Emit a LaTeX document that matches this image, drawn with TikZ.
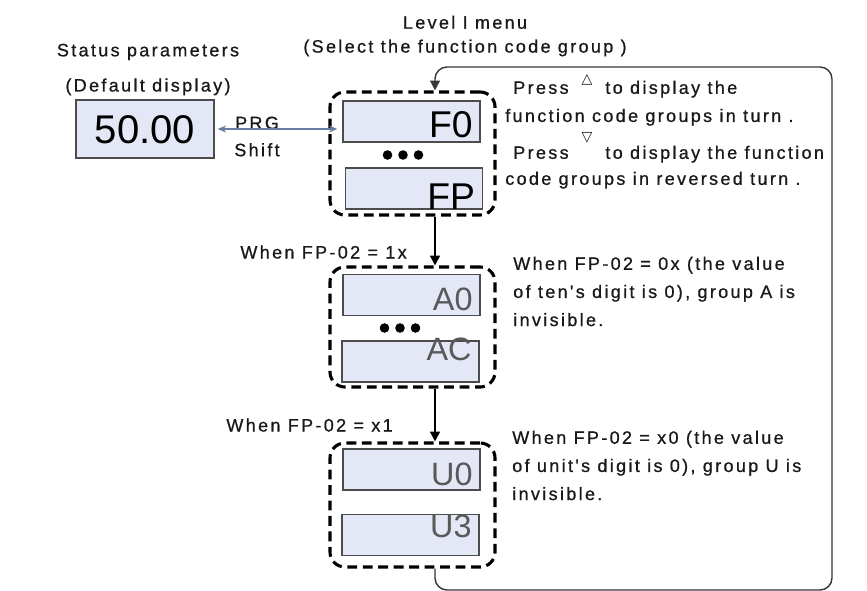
\documentclass[tikz,border=0pt]{standalone}
\usepackage{fontspec}
\setmainfont{Liberation Sans}
\newfontfamily\lsfont[LetterSpace=13,FakeBold=0.8]{Liberation Sans}
\newfontfamily\symfont{DejaVu Sans}
\usetikzlibrary{arrows.meta}

\definecolor{dispfill}{RGB}{228,231,246}
\definecolor{prgblue}{RGB}{100,125,160}
\definecolor{loopgray}{RGB}{55,55,55}

% small key triangle, raised above the line
\newcommand\keyglyph[2]{{\symfont\fontsize{10}{10}\selectfont\smash{\raisebox{#1}{#2}}}}

\tikzset{
  note/.style={font=\fontsize{12.8}{20}\selectfont\lsfont, text=black!90, align=left, inner sep=0pt},
  statbox/.style={draw=black!70, line width=1.2pt, fill=dispfill, minimum width=3.45cm, minimum height=1.45cm,
    inner sep=0pt, text height=0.7cm, text depth=0pt, font=\fontsize{28.5}{29}\selectfont},
  disp/.style 2 args={draw=black!70, line width=1.2pt, fill=dispfill, minimum width=3.425cm, minimum height=1.025cm,
    inner sep=0pt, text width=3.05cm, align=right, text height=#1, text depth=#2},
  fval/.style={font=\fontsize{26.5}{27}\selectfont},
  gval/.style={font=\fontsize{23}{23}\selectfont, text=black!65},
  grp/.style={draw, line width=2.2pt, dash pattern=on 7pt off 4pt, rounded corners=0.375cm, minimum width=4.125cm},
}

\begin{document}
\begin{tikzpicture}[x=0.025cm,y=-0.025cm,>={Triangle[length=7pt,width=7pt]}]
  \useasboundingbox (0,0) rectangle (867,591);
  % headings
  \node[note,align=center] (lvl) at (465,36) {Level I menu\\[-3pt](Select the function code group )};
  \node[note,align=center] (stathd) at (148,69.5) {Status parameters\\[5pt](Default display)};
  \node[statbox] (stat) at (145,129) {50.00};
  % function code groups
  \node[grp,minimum height=3.075cm] (gF) at (412.5,153.5) {};
  \node[grp,minimum height=3cm] (gA) at (412.5,327) {};
  \node[grp,minimum height=3.1cm] (gU) at (412.5,505) {};
  \node[disp={0.775cm}{0pt},fval] (f0) at (411.5,121.5) {F0};
  \node[disp={1.025cm}{0pt},fval] (fp) at (414,188.5) {FP};
  \node[disp={0.75cm}{0pt},gval] (a0) at (411.5,295) {A0};
  \node[disp={0.45cm}{0.525cm},gval] (ac) at (410.5,361.5) {AC};
  \node[disp={0.775cm}{0pt},gval] (u0) at (411.5,469.5) {U0};
  \node[disp={0.5cm}{0.4cm},gval] (u3) at (410.5,535) {U3};
  \fill (387.5,155) circle[radius=0.12cm] (403,155) circle[radius=0.12cm] (418.5,155) circle[radius=0.12cm];
  \fill (384.5,328) circle[radius=0.12cm] (400,328) circle[radius=0.12cm] (415.5,328) circle[radius=0.12cm];
  % PRG / Shift
  \node[note,align=center] (prg) at (257,136.5) {PRG\\[-0.8pt]Shift};
  \draw[{Stealth[length=6pt,width=5pt]}-{Stealth[length=6pt,width=5pt]},prgblue,line width=0.8pt,shorten <=2pt,shorten >=3.5pt]
    (stat.east) -- (stat.east -| f0.west);
  % explanations
  \node[note,anchor=north west] (pressup) at (505,80.5)
    {\hspace{5.7pt}Press\hspace{4pt} \keyglyph{7pt}{△}\hspace{4pt} to display the\\function code groups in turn .};
  \node[note,anchor=north west] (pressdn) at (505,145.5)
    {\hspace{5.7pt}Press\hspace{4pt} \keyglyph{12pt}{▽}\hspace{4pt} to display the function\\[-1.5pt]code groups in reversed turn .};
  \node[note,anchor=north west] (hideA) at (513,256.5) {When FP-02 = 0x (the value\\of ten's digit is 0), group A is\\invisible.};
  \node[note,anchor=north west] (hideU) at (512,430.5) {When FP-02 = x0 (the value\\of unit's digit is 0), group U is\\invisible.};
  \node[note,anchor=base east] (condA) at (407,258.5) {When FP-02 = 1x};
  \node[note,anchor=base east] (condU) at (393,431.5) {When FP-02 = x1};
  % connectors
  \coordinate (ax) at (435,0);
  \coordinate (loopbr) at (832,590);
  \coordinate (looptr) at (832,67);
  \draw[->,line width=1.2pt] (gF.south -| ax) -- (gA.north -| ax);
  \draw[->,line width=1.2pt] (gA.south -| ax) -- (gU.north -| ax);
  \draw[->,loopgray,line width=1pt,rounded corners=0.3cm] (gU.south -| ax) |- (loopbr) -- (looptr) -| (gF.north -| ax);
\end{tikzpicture}
\end{document}
